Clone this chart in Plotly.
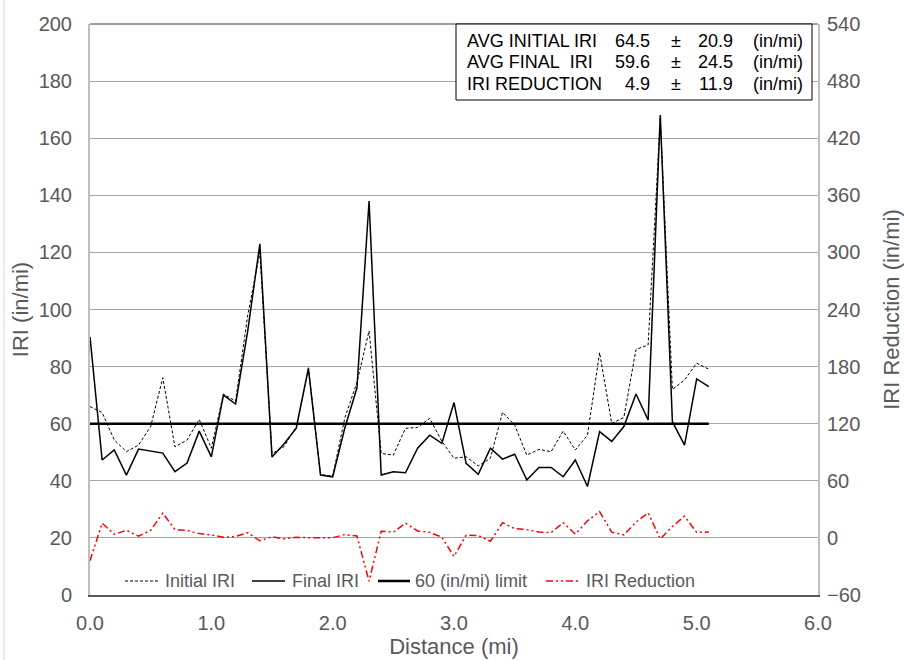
import plotly.graph_objects as go

# Distance along the section (mi)
distance = [0.0, 0.1, 0.2, 0.3, 0.4, 0.5, 0.6, 0.7, 0.8, 0.9,
            1.0, 1.1, 1.2, 1.3, 1.4, 1.5, 1.6, 1.7, 1.8, 1.9,
            2.0, 2.1, 2.2, 2.3, 2.4, 2.5, 2.6, 2.7, 2.8, 2.9,
            3.0, 3.1, 3.2, 3.3, 3.4, 3.5, 3.6, 3.7, 3.8, 3.9,
            4.0, 4.1, 4.2, 4.3, 4.4, 4.5, 4.6, 4.7, 4.8, 4.9,
            5.0, 5.1]

# IRI before treatment (in/mi)
initial_iri = [66.0, 63.9, 54.3, 50.2, 52.5, 59.0, 76.1, 51.9, 54.3, 61.5,
               51.4, 70.4, 67.9, 98.0, 120.0, 49.5, 52.0, 59.0, 79.6, 42.2,
               41.6, 62.0, 74.5, 92.5, 49.6, 49.0, 58.4, 58.7, 61.9, 53.8,
               47.9, 48.4, 45.2, 47.9, 64.0, 59.5, 49.0, 51.0, 50.2, 57.4,
               50.8, 56.0, 84.9, 60.1, 62.2, 86.0, 87.6, 167.0, 72.0, 75.3,
               81.2, 79.1]

# IRI after treatment (in/mi)
final_iri = [90.4, 47.3, 50.8, 42.0, 51.1, 50.5, 49.7, 43.2, 46.2, 57.4,
             48.4, 70.0, 66.9, 92.5, 123.0, 48.3, 53.0, 58.4, 79.4, 42.0,
             41.4, 58.5, 72.5, 138.0, 42.0, 43.2, 42.8, 51.4, 56.0, 53.1,
             67.4, 46.1, 42.3, 51.4, 47.6, 49.3, 40.3, 44.7, 44.7, 41.4,
             47.3, 38.0, 57.2, 53.8, 59.0, 70.4, 61.3, 168.1, 60.7, 52.5,
             75.7, 73.0]

# IRI reduction (in/mi), right axis
iri_reduction = [-24.0, 15.5, 3.7, 8.0, 1.8, 8.0, 26.0, 8.9, 7.9, 4.5,
                 3.1, 0.6, 1.5, 5.5, -3.0, 1.2, -1.0, 0.6, 0.2, 0.2,
                 0.2, 3.5, 2.0, -45.5, 7.0, 6.0, 15.5, 7.3, 5.8, 0.7,
                 -19.5, 2.8, 2.5, -3.5, 16.0, 9.7, 8.7, 6.3, 5.5, 16.0,
                 4.0, 18.0, 27.7, 6.0, 3.2, 16.5, 26.3, -1.1, 12.0, 22.8,
                 5.8, 6.1]

# Specification limit
limit_iri = [60] * len(distance)

# Summary statistics shown in the box
summary_labels = ["AVG INITIAL IRI", "AVG FINAL  IRI", "IRI REDUCTION"]
summary_means = ["64.5", "59.6", "4.9"]
summary_sds = ["20.9", "24.5", "11.9"]
summary_unit = "(in/mi)"

FONT = "Liberation Sans, Arial, sans-serif"
GRAY_TXT = "#595959"

W, H = 904, 660
L, R, T, B = 90, 86, 24, 65
PW, PH = W - L - R, H - T - B


def px(xp):
    return (xp - L) / PW


def py(yp):
    return (H - B - yp) / PH


# Series styles (shared by the traces and the legend samples)
styles = [
    ("Initial IRI", dict(color="black", width=1, dash="3px,2px")),
    ("Final IRI", dict(color="black", width=1.5)),
    ("60 (in/mi) limit", dict(color="black", width=2.5)),
    ("IRI Reduction", dict(color="#FF0000", width=1.5, dash="7px,3px,2px,3px,2px,3px")),
]
series = [(distance, initial_iri, "y"), (distance, final_iri, "y"),
          (distance, limit_iri, "y"), (distance, iri_reduction, "y2")]

fig = go.Figure()
for (name, line), (xs, ys, ax) in zip(styles, series):
    fig.add_trace(go.Scatter(x=xs, y=ys, name=name, mode="lines",
                             yaxis=ax, line=line, showlegend=False))

fig.update_layout(
    width=W, height=H,
    margin=dict(l=L, r=R, t=T, b=B),
    paper_bgcolor="white", plot_bgcolor="white",
    font=dict(family=FONT, size=18, color=GRAY_TXT),
    showlegend=False,
    xaxis=dict(range=[0, 6], tickvals=[0, 1, 2, 3, 4, 5, 6],
               tickformat=".1f", showgrid=False, zeroline=False,
               showline=True, linecolor="#595959", linewidth=1.5,
               ticks="", ticklabelstandoff=9, automargin=False,
               tickfont=dict(size=20, color=GRAY_TXT),
               title=dict(text="Distance (mi)", font=dict(size=22, color=GRAY_TXT),
                          standoff=2)),
    yaxis=dict(range=[0, 200], tickvals=list(range(0, 201, 20)),
               showgrid=True, gridcolor="#A6A6A6", gridwidth=1,
               zeroline=False, showline=True, linecolor="#BFBFBF", linewidth=2,
               ticks="", ticklabelstandoff=12, automargin=False,
               tickfont=dict(size=20, color=GRAY_TXT),
               title=dict(text="IRI (in/mi)", font=dict(size=22, color=GRAY_TXT),
                          standoff=4)),
    yaxis2=dict(range=[-60, 540], tickvals=list(range(-60, 541, 60)),
                overlaying="y", side="right", showgrid=False, zeroline=False,
                showline=True, linecolor="#BFBFBF", linewidth=2,
                ticks="", ticklabelstandoff=3, automargin=False,
                tickfont=dict(size=20, color=GRAY_TXT),
                title=dict(text="IRI Reduction (in/mi)",
                           font=dict(size=22, color=GRAY_TXT), standoff=26)),
)

# Top edge of the plot area and outer chart border
fig.add_shape(type="line", xref="paper", yref="paper", x0=0, x1=1, y0=1, y1=1,
              line=dict(color="#404040", width=1))
fig.add_shape(type="line", xref="paper", yref="paper",
              x0=px(4), x1=px(4), y0=py(0), y1=py(H),
              line=dict(color="#D9D9D9", width=1))

# Legend along the bottom of the plot area
legend_x = [(125, 158, 163), (252, 285, 290), (378, 410, 413), (546, 578, 584)]
legend_y = 581
for (name, line), (x0, x1, xt) in zip(styles, legend_x):
    fig.add_shape(type="line", xref="paper", yref="paper",
                  x0=px(x0), x1=px(x1), y0=py(legend_y), y1=py(legend_y),
                  line=line)
    fig.add_annotation(xref="paper", yref="paper", x=px(xt), y=py(legend_y),
                       xanchor="left", yanchor="middle", showarrow=False,
                       text=name, font=dict(family=FONT, size=18, color=GRAY_TXT))

# Summary box
fig.add_shape(type="rect", xref="paper", yref="paper",
              x0=px(456), x1=px(812), y0=py(100), y1=py(24),
              line=dict(color="black", width=1), fillcolor="white", layer="above")

row_y = [41, 62, 84]
for lab, mean, sd, yy in zip(summary_labels, summary_means, summary_sds, row_y):
    common = dict(xref="paper", yref="paper", y=py(yy), yanchor="middle",
                  showarrow=False, font=dict(family=FONT, size=18, color="black"))
    fig.add_annotation(x=px(465), xanchor="left", text=lab.replace("  ", "&nbsp; "), **common)
    fig.add_annotation(x=px(652), xanchor="right", text=mean, **common)
    fig.add_annotation(x=px(676), xanchor="center", text="±", **common)
    fig.add_annotation(x=px(735), xanchor="right", text=sd, **common)
    fig.add_annotation(x=px(751), xanchor="left", text=summary_unit, **common)

fig.write_html("out.html")
